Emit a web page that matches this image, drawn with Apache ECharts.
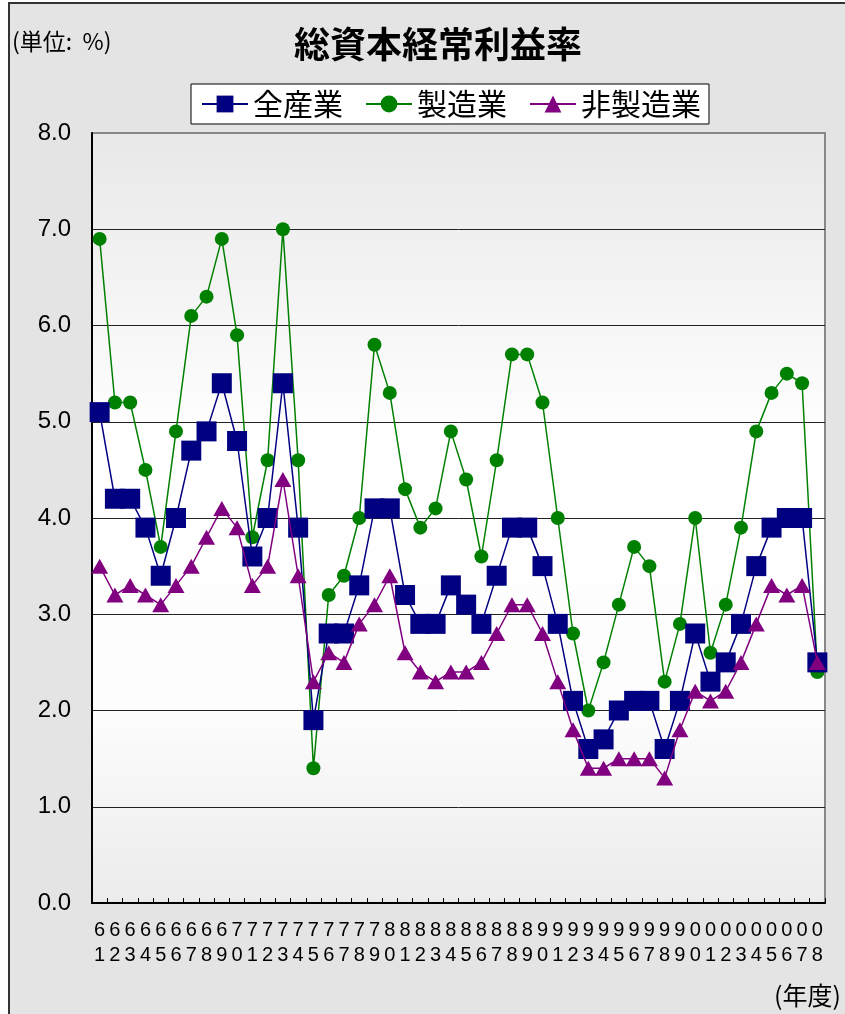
<!DOCTYPE html>
<html>
<head>
<meta charset="utf-8">
<script src="https://cdn.jsdelivr.net/npm/echarts@6/dist/echarts.min.js"></script>
<style>
  html, body { margin: 0; padding: 0; background: #ffffff; }
  #chart { width: 845px; height: 1014px; }
</style>
</head>
<body>
<div id="chart"></div>
<script>
// Fiscal years 1961–2008, labelled by their last two digits
const years = ['61','62','63','64','65','66','67','68','69','70',
  '71','72','73','74','75','76','77','78','79','80',
  '81','82','83','84','85','86','87','88','89','90',
  '91','92','93','94','95','96','97','98','99','00',
  '01','02','03','04','05','06','07','08'];

// 総資本経常利益率 (%)
const allIndustries = [5.1,4.2,4.2,3.9,3.4,4.0,4.7,4.9,5.4,4.8,
  3.6,4.0,5.4,3.9,1.9,2.8,2.8,3.3,4.1,4.1,
  3.2,2.9,2.9,3.3,3.1,2.9,3.4,3.9,3.9,3.5,
  2.9,2.1,1.6,1.7,2.0,2.1,2.1,1.6,2.1,2.8,
  2.3,2.5,2.9,3.5,3.9,4.0,4.0,2.5];

const manufacturing = [6.9,5.2,5.2,4.5,3.7,4.9,6.1,6.3,6.9,5.9,
  3.8,4.6,7.0,4.6,1.4,3.2,3.4,4.0,5.8,5.3,
  4.3,3.9,4.1,4.9,4.4,3.6,4.6,5.7,5.7,5.2,
  4.0,2.8,2.0,2.5,3.1,3.7,3.5,2.3,2.9,4.0,
  2.6,3.1,3.9,4.9,5.3,5.5,5.4,2.4];

const nonManufacturing = [3.5,3.2,3.3,3.2,3.1,3.3,3.5,3.8,4.1,3.9,
  3.3,3.5,4.4,3.4,2.3,2.6,2.5,2.9,3.1,3.4,
  2.6,2.4,2.3,2.4,2.4,2.5,2.8,3.1,3.1,2.8,
  2.3,1.8,1.4,1.4,1.5,1.5,1.5,1.3,1.8,2.2,
  2.1,2.2,2.5,2.9,3.3,3.2,3.3,2.5];

const seriesNames = ['全産業', '製造業', '非製造業'];

const chart = echarts.init(document.getElementById('chart'), null, { renderer: 'canvas' });

const latin = '"Liberation Sans", Arial, sans-serif';
const cjk = '"Noto Sans CJK JP", "Liberation Sans", sans-serif';

const option = {
  backgroundColor: '#ffffff',
  animation: false,
  graphic: [
    {
      type: 'rect', z: -10, silent: true,
      shape: { x: 9, y: 3, width: 845, height: 1020 },
      style: { fill: '#e4e4e4', stroke: '#333333', lineWidth: 2 }
    },
    {
      type: 'text', left: 12, top: 30,
      style: { text: '(単位:  %)', font: '23px ' + cjk, fill: '#000000' }
    },
    {
      type: 'text', right: 4, top: 983,
      style: { text: '(年度)', font: '25px ' + cjk, fill: '#000000' }
    }
  ],
  title: {
    text: '総資本経常利益率',
    left: 433, textAlign: 'center', top: 21,
    textStyle: { fontFamily: cjk, fontSize: 36, fontWeight: 'bold', color: '#000000' }
  },
  legend: {
    data: seriesNames,
    left: 191, top: 84,
    backgroundColor: '#ffffff',
    borderColor: '#000000', borderWidth: 1,
    padding: [5, 8, 5, 10],
    itemGap: 22,
    itemWidth: 46, itemHeight: 21,
    textStyle: { fontFamily: cjk, fontSize: 30, color: '#000000', padding: [0, 0, 0, 0] }
  },
  grid: {
    left: 92, right: 20, top: 133, bottom: 111,
    show: true,
    borderColor: '#888888', borderWidth: 2,
    backgroundColor: new echarts.graphic.LinearGradient(0, 0, 0, 1, [
      { offset: 0, color: '#e8e8e8' },
      { offset: 0.4, color: '#ffffff' },
      { offset: 0.75, color: '#fdfdfd' },
      { offset: 1, color: '#ebebeb' }
    ])
  },
  xAxis: {
    type: 'category',
    data: years,
    boundaryGap: true,
    axisLine: { lineStyle: { color: '#000000', width: 2 } },
    axisTick: { show: true, inside: true, length: 5, lineStyle: { color: '#000000', width: 1 } },
    axisLabel: {
      interval: 0,
      margin: 15,
      fontFamily: latin, fontSize: 20, lineHeight: 25, color: '#000000',
      formatter: v => v.charAt(0) + '\n' + v.charAt(1)
    },
    splitLine: { show: false }
  },
  yAxis: {
    type: 'value',
    min: 0, max: 8, interval: 1,
    axisLine: { show: true, lineStyle: { color: '#000000', width: 2 } },
    axisTick: { show: false },
    axisLabel: {
      margin: 21,
      fontFamily: latin, fontSize: 24, color: '#000000',
      formatter: v => v.toFixed(1)
    },
    splitLine: { show: true, showMaxLine: false, lineStyle: { color: '#222222', width: 1 } }
  },
  series: [
    {
      name: seriesNames[0], type: 'line', data: allIndustries,
      symbol: 'rect', symbolSize: 20,
      itemStyle: { color: '#000080' },
      lineStyle: { color: '#000080', width: 1.5 },
      z: 3
    },
    {
      name: seriesNames[1], type: 'line', data: manufacturing,
      symbol: 'circle', symbolSize: 14,
      itemStyle: { color: '#008000' },
      lineStyle: { color: '#008000', width: 1.5 },
      z: 2
    },
    {
      name: seriesNames[2], type: 'line', data: nonManufacturing,
      symbol: 'triangle', symbolSize: [17, 15],
      itemStyle: { color: '#800080' },
      lineStyle: { color: '#800080', width: 1.5 },
      z: 4
    }
  ]
};

chart.setOption(option);
</script>
</body>
</html>
